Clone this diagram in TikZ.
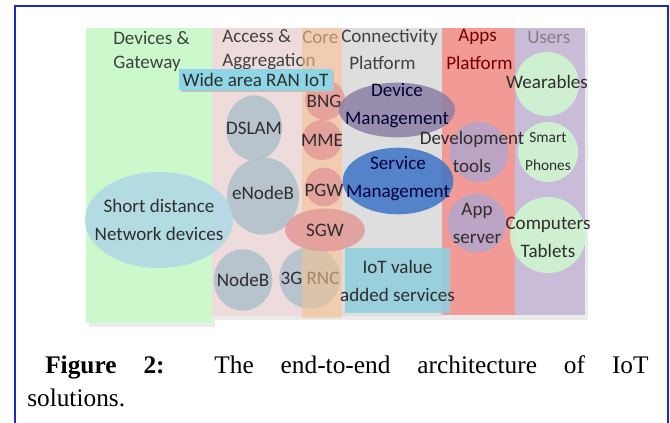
\documentclass[tikz,border=0pt]{standalone}
\usepackage{fontspec}
\setmainfont{Liberation Serif}
\newfontfamily\diagfont{Carlito}
\usetikzlibrary{shapes.geometric}

% column colours
\definecolor{devgreen}{HTML}{CCF9CC}
\definecolor{accpink}{HTML}{EEDCDC}
\definecolor{coreorange}{HTML}{F3C293}
\definecolor{conngray}{HTML}{DEDEDE}
\definecolor{appsred}{HTML}{F19A96}
\definecolor{userpurple}{HTML}{C9BCD8}
% node colours
\definecolor{netgray}{HTML}{AFC0CB}
\definecolor{corered}{HTML}{E39A98}
\definecolor{shortblue}{HTML}{AED8E6}
\definecolor{mgmtpurple}{HTML}{8E7FA5}
\definecolor{svcblue}{HTML}{3D74C6}
\definecolor{iotcyan}{HTML}{93CEDC}
\definecolor{ranCyan}{HTML}{8ED6E6}
\definecolor{toolpurple}{HTML}{B5A5CC}
\definecolor{usergreen}{HTML}{CFF9CF}
\definecolor{frameblue}{HTML}{2424CC}

\begin{document}
\begin{tikzpicture}[x=0.75pt,y=-0.75pt,
    lbl/.style={font=\diagfont\fontsize{14.3}{21}\selectfont, text=black!82, align=center, inner sep=0pt},
    head/.style={lbl, anchor=west, text=black!75},
    blob/.style={ellipse, inner sep=0pt, fill opacity=0.85},
    tag/.style={rectangle, inner sep=0pt, fill opacity=0.9}]
    \useasboundingbox (0,0) rectangle (670,423);

    % soft shadows under the columns
    \fill[black!8] (89,31) rectangle (215,327);
    \fill[black!8] (215,31) rectangle (588,320);

    % columns
    \fill[devgreen] (86,28) rectangle (212,323);
    \fill[accpink] (212,28) rectangle (342,316);
    \fill[conngray] (342,28) rectangle (442,316);
    \fill[appsred] (442,28) rectangle (515,315);
    \fill[userpurple] (515,28) rectangle (585,315);

    % column headings
    \node[head] (hdev) at (113,38) {Devices \&};
    \node[head] (hgate) at (113,64) {Gateway};
    \node[head] (hacc) at (222,36) {Access \&};
    \node[head] (hagg) at (222,62) {Aggregation};
    \node[head] (hcore) at (302,37) {Core};
    \node[head] (hconn) at (341,37) {Connectivity};
    \node[head] (hplat) at (349,63) {Platform};
    \node[head, text=red!45!black] (happs) at (458,37) {Apps};
    \node[head, text=red!45!black] (happlat) at (446,63) {Platform};
    \node[head, text=black!50] (husers) at (527,37) {Users};

    % access network
    \node[blob, fill=netgray, minimum width=42pt, minimum height=49pt] (dslam) at (254,128) {};
    \node[lbl] (dslamtxt) at (dslam) {DSLAM};
    \node[blob, fill=netgray, minimum width=54pt, minimum height=58pt] (enodeb) at (263,196) {};
    \node[lbl] (enodebtxt) at (263,193) {eNodeB};
    \node[blob, fill=netgray, minimum width=44pt, minimum height=46pt] (nodeb) at (243,280) {};
    \node[lbl] (nodebtxt) at (nodeb) {NodeB};
    \node[blob, fill=netgray, minimum width=46pt, minimum height=46pt] (rnc) at (310,278) {};
    \node[lbl] (rnctxt) at (rnc) {3G RNC};
    \node[blob, fill=shortblue, minimum width=111pt, minimum height=72pt] (short) at (159,220) {};
    \node[lbl] (shorttxt) at (short) {Short distance\\Network devices};

    % core column drawn over
    \fill[coreorange, opacity=0.6] (302,28) rectangle (342,318);

    % core nodes
    \node[blob, fill=corered, minimum width=30pt, minimum height=30pt] (bng) at (325,100) {};
    \node[lbl] (bngtxt) at (324,101) {BNG};
    \node[blob, fill=corered, minimum width=30pt, minimum height=30pt] (mme) at (322,140) {};
    \node[lbl] (mmetxt) at (mme) {MME};
    \node[blob, fill=corered, minimum width=28pt, minimum height=29pt] (pgw) at (324,187) {};
    \node[lbl] (pgwtxt) at (324,190) {PGW};
    \node[blob, fill=corered, minimum width=60pt, minimum height=32pt] (sgw) at (325,230) {};
    \node[lbl] (sgwtxt) at (sgw) {SGW};

    % connectivity platform
    \node[blob, fill=mgmtpurple, minimum width=87pt, minimum height=41pt] (devmgmt) at (397,110) {};
    \node[lbl, text=black!80!blue] (devmgmttxt) at (397,106) {Device\\Management};
    \node[blob, fill=svcblue, minimum width=83pt, minimum height=50pt] (svcmgmt) at (398,181) {};
    \node[lbl, text=blue!25!black] (svcmgmttxt) at (398,179) {Service\\Management};
    \node[tag, fill=iotcyan, minimum width=79pt, minimum height=49pt] (iotval) at (397.5,280.5) {};
    \node[lbl] (iotvaltxt) at (iotval) {IoT value\\added services};

    % apps platform
    \node[blob, fill=toolpurple, minimum width=44pt, minimum height=45pt] (devtools) at (479,152) {};
    \node[blob, fill=toolpurple, minimum width=44pt, minimum height=44pt] (appsrv) at (477,223) {};
    \node[lbl] (appsrvtxt) at (appsrv) {App\\server};

    % users
    \node[blob, fill=usergreen, minimum width=48pt, minimum height=48pt] (wear) at (547,84) {};
    \node[lbl] (weartxt) at (547,82) {Wearables};
    \node[blob, fill=usergreen, minimum width=45pt, minimum height=45pt] (phones) at (548,152) {};
    \node[lbl, font=\diagfont\fontsize{11.5}{21}\selectfont] (phonestxt) at (phones) {Smart\\Phones};
    \node[blob, fill=usergreen, minimum width=57pt, minimum height=57pt] (comp) at (548,235) {};
    \node[lbl] (comptxt) at (548,237) {Computers\\Tablets};
    \node[lbl] (devtoolstxt) at (472,152) {Development\\tools};

    % wide area banner on top
    \fill[black!25] (181,71) rectangle (334,92);
    \node[tag, fill=ranCyan, fill opacity=1, minimum width=114.75pt, minimum height=15.75pt] (ran) at (255.5,79.5) {};
    \node[lbl] (rantxt) at (ran) {Wide area RAN IoT};

    % caption
    \node[anchor=north west, inner sep=0pt, text width=466pt, align=justify,
        font=\fontsize{19}{24.75}\selectfont] (caption) at (27,355)
        {\hspace*{13.5pt}\textbf{Figure 2:} The end-to-end architecture of IoT\linebreak solutions.};

    % frame, open at the bottom
    \draw[frameblue, line width=1.5pt] (15,423) -- (15,6) -- (668,6) -- (668,423);
\end{tikzpicture}
\end{document}
